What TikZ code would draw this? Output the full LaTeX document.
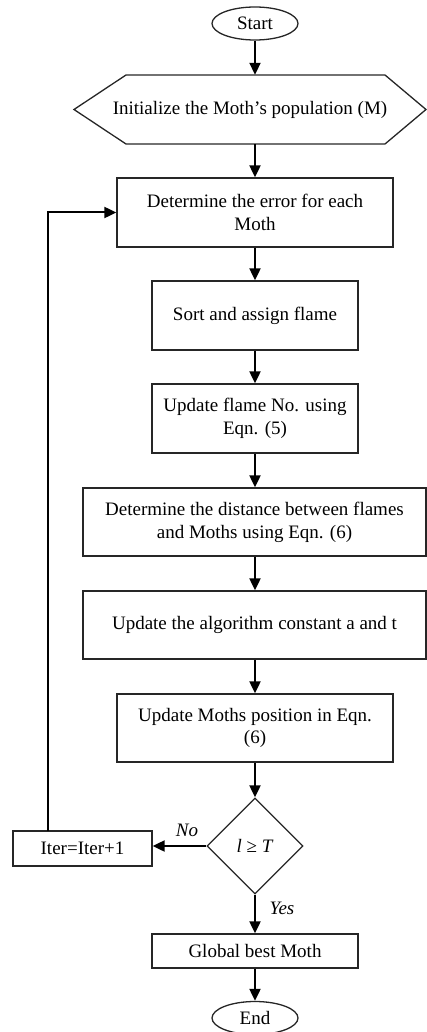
\documentclass[tikz,border=0pt]{standalone}
\usepackage{fontspec}
\setmainfont{Liberation Serif}
\usetikzlibrary{arrows.meta,shapes.geometric}
\begin{document}
\begin{tikzpicture}[x=1pt,y=-1pt,
  every node/.style={font=\fontsize{19}{22.8}\selectfont, inner sep=0pt, align=center},
  procbox/.style={draw=black!85, line width=1.3pt, rectangle},
  term/.style={draw=black!85, line width=1.3pt, ellipse, minimum width=86pt, minimum height=33pt},
  decis/.style={draw=black!85, line width=1.3pt, diamond, minimum width=96pt, minimum height=96pt},
  arr/.style={draw=black, line width=2pt, -{Triangle[length=12pt,width=11pt]}},
  lbl/.style={font=\fontsize{19}{22.8}\selectfont\itshape}
]
\useasboundingbox (0,0) rectangle (427,1032);

\node[term] (start) at (255,23.5) {Start};
\node[minimum width=352pt, minimum height=69pt] (init) at (250,109.5) {Initialize the Moth’s population (M)};
\draw[draw=black!85, line width=1.3pt] (74,109.5) -- (126,75) -- (385,75) -- (426,109.5) -- (385,144) -- (126,144) -- cycle;

\node[procbox, minimum width=276pt, minimum height=69pt] (b1) at (255,212.5) {Determine the error for each\\Moth};
\node[procbox, minimum width=206pt, minimum height=69pt] (b2) at (255,315.5) {Sort and assign flame};
\node[procbox, minimum width=206pt, minimum height=69pt] (b3) at (255,418.5) {Update flame No. using\\Eqn. (5)};
\node[procbox, minimum width=343pt, minimum height=68pt] (b4) at (254.5,522) {Determine the distance between flames\\and Moths using Eqn. (6)};
\node[procbox, minimum width=343pt, minimum height=68pt] (b5) at (254.5,625) {Update the algorithm constant a and t};
\node[procbox, minimum width=276pt, minimum height=68pt] (b6) at (255,728) {Update Moths position in Eqn.\\(6)};
\node[decis] (d) at (255,846) {\textit{l} ≥ \textit{T}};
\node[procbox, minimum width=139pt, minimum height=35pt] (iter) at (82.5,848.5) {Iter=Iter+1};
\node[procbox, minimum width=206pt, minimum height=34pt] (best) at (255,951) {Global best Moth};
\node[term] (end) at (255,1018) {End};

\coordinate (lp) at (48,831);

\draw[arr] (start) -- (start |- init.north);
\draw[arr] (start |- init.south) -- (b1);
\draw[arr] (b1) -- (b2);
\draw[arr] (b2) -- (b3);
\draw[arr] (b3) -- (b3 |- b4.north);
\draw[arr] (b3 |- b4.south) -- (b3 |- b5.north);
\draw[arr] (b3 |- b5.south) -- (b6);
\draw[arr] (b6) -- (d);
\draw[arr] (d.west) -- (d.west -| iter.east);
\draw[arr] (d) -- (best);
\draw[arr] (best) -- (end);
\draw[arr] (lp) |- (b1.west);

\node[lbl] (no) at (187,830) {No};
\node[lbl] (yes) at (282,908) {Yes};
\end{tikzpicture}
\end{document}
